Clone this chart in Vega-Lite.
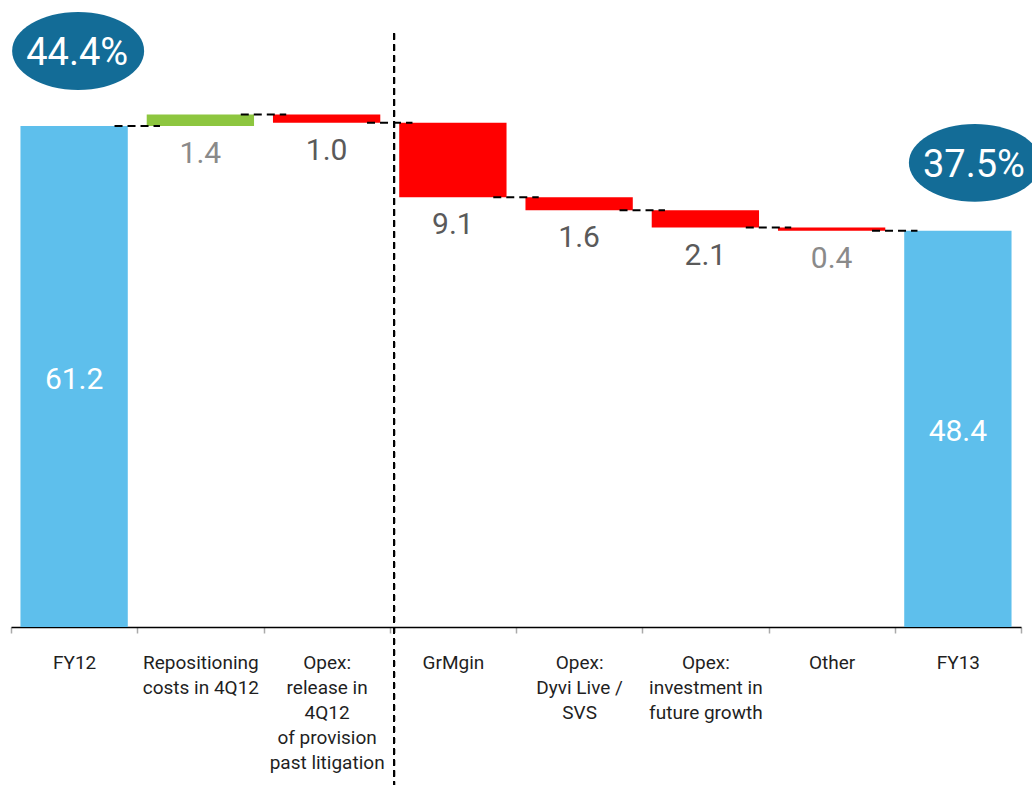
{
  "$schema": "https://vega.github.io/schema/vega-lite/v6.json",
  "width": 1010,
  "height": 627,
  "autosize": {"type": "none"},
  "padding": {"left": 11, "top": 0, "right": 11, "bottom": 158},
  "background": "white",
  "config": {"view": {"stroke": null}, "font": "Roboto"},
  "data": {
    "values": [
      {"cat": "FY12", "start": 0, "end": 61.2, "type": "total", "label": "61.2", "pct": "44.4%", "next": "Repositioning|costs in 4Q12"},
      {"cat": "Repositioning|costs in 4Q12", "start": 61.2, "end": 62.6, "type": "up", "label": "1.4", "next": "Opex:|release in|4Q12|of provision|past litigation"},
      {"cat": "Opex:|release in|4Q12|of provision|past litigation", "start": 62.6, "end": 61.6, "type": "down", "label": "1.0", "next": "GrMgin"},
      {"cat": "GrMgin", "start": 61.6, "end": 52.5, "type": "down", "label": "9.1", "next": "Opex:|Dyvi Live /|SVS"},
      {"cat": "Opex:|Dyvi Live /|SVS", "start": 52.5, "end": 50.9, "type": "down", "label": "1.6", "next": "Opex:|investment in|future growth"},
      {"cat": "Opex:|investment in|future growth", "start": 50.9, "end": 48.8, "type": "down", "label": "2.1", "next": "Other"},
      {"cat": "Other", "start": 48.8, "end": 48.4, "type": "down", "label": "0.4", "next": "FY13"},
      {"cat": "FY13", "start": 0, "end": 48.4, "type": "total", "label": "48.4", "pct": "37.5%"}
    ]
  },
  "transform": [
    {"calculate": "min(datum.start, datum.end)", "as": "low"},
    {"calculate": "(datum.start + datum.end) / 2", "as": "mid"}
  ],
  "encoding": {
    "x": {
      "field": "cat",
      "type": "nominal",
      "sort": null,
      "scale": {
        "domain": ["FY12", "Repositioning|costs in 4Q12", "Opex:|release in|4Q12|of provision|past litigation", "GrMgin", "Opex:|Dyvi Live /|SVS", "Opex:|investment in|future growth", "Other", "FY13"],
        "paddingInner": 0,
        "paddingOuter": 0
      },
      "axis": {
        "title": null,
        "labelExpr": "split(datum.label, '|')",
        "labelAngle": 0,
        "labelFontSize": 19,
        "labelColor": "#1f1f1f",
        "labelLineHeight": 25,
        "labelPadding": 20,
        "labelLimit": 0,
        "tickBand": "extent",
        "tickSize": 6,
        "tickColor": "#aaaaaa",
        "tickWidth": 1.5,
        "domainColor": "#000000",
        "domainWidth": 1.5,
        "grid": false
      }
    }
  },
  "layer": [
    {
      "mark": {"type": "bar", "width": {"band": 0.85}},
      "encoding": {
        "y": {"field": "start", "type": "quantitative", "scale": {"domain": [0, 76.6], "nice": false, "zero": false}, "axis": null},
        "y2": {"field": "end"},
        "color": {"field": "type", "type": "nominal", "scale": {"domain": ["total", "up", "down"], "range": ["#5EBFEC", "#8DC63F", "#FF0000"]}, "legend": null}
      }
    },
    {
      "transform": [{"filter": "datum.next != null"}],
      "mark": {"type": "rule", "color": "#000000", "strokeWidth": 2, "strokeDash": [8, 5]},
      "encoding": {
        "x": {"field": "cat", "type": "nominal", "sort": null, "bandPosition": 0.82},
        "x2": {"field": "next", "bandPosition": 0.18},
        "y": {"field": "end", "type": "quantitative"}
      }
    },
    {
      "mark": {"type": "rule", "color": "#000000", "strokeWidth": 2, "strokeDash": [6, 5]},
      "encoding": {
        "x": {"datum": "GrMgin", "type": "nominal", "bandPosition": 0.034},
        "y": {"datum": 72.5, "type": "quantitative"},
        "y2": {"datum": -19.5}
      }
    },
    {
      "transform": [{"filter": "datum.type != 'total'"}],
      "mark": {"type": "text", "baseline": "top", "align": "center", "dy": 13, "fontSize": 30},
      "encoding": {
        "y": {"field": "low", "type": "quantitative"},
        "text": {"field": "label"},
        "color": {"condition": {"test": "datum.label == '1.4' || datum.label == '0.4'", "value": "#8a8a8a"}, "value": "#5a5a5a"}
      }
    },
    {
      "transform": [{"filter": "datum.type == 'total'"}],
      "mark": {"type": "text", "baseline": "middle", "align": "center", "dy": 3, "fontSize": 30, "color": "#ffffff"},
      "encoding": {
        "y": {"field": "mid", "type": "quantitative"},
        "text": {"field": "label"}
      }
    },
    {
      "transform": [{"filter": "datum.cat == 'FY12'"}],
      "mark": {"type": "point", "shape": "M-1,0A1,0.59,0,1,1,1,0A1,0.59,0,1,1,-1,0Z", "size": 17424, "filled": true, "opacity": 1, "color": "#136C97", "xOffset": 4, "yOffset": -75},
      "encoding": {"y": {"field": "end", "type": "quantitative"}}
    },
    {
      "transform": [{"filter": "datum.cat == 'FY12'"}],
      "mark": {"type": "text", "fontSize": 38, "color": "#ffffff", "baseline": "middle", "align": "center", "xOffset": 3, "yOffset": -72},
      "encoding": {"y": {"field": "end", "type": "quantitative"}, "text": {"field": "pct"}}
    },
    {
      "transform": [{"filter": "datum.cat == 'FY13'"}],
      "mark": {"type": "point", "shape": "M-1,0A1,0.59,0,1,1,1,0A1,0.59,0,1,1,-1,0Z", "size": 17424, "filled": true, "opacity": 1, "color": "#136C97", "xOffset": 17, "yOffset": -68},
      "encoding": {"y": {"field": "end", "type": "quantitative"}}
    },
    {
      "transform": [{"filter": "datum.cat == 'FY13'"}],
      "mark": {"type": "text", "fontSize": 38, "color": "#ffffff", "baseline": "middle", "align": "center", "xOffset": 16, "yOffset": -65},
      "encoding": {"y": {"field": "end", "type": "quantitative"}, "text": {"field": "pct"}}
    }
  ]
}
